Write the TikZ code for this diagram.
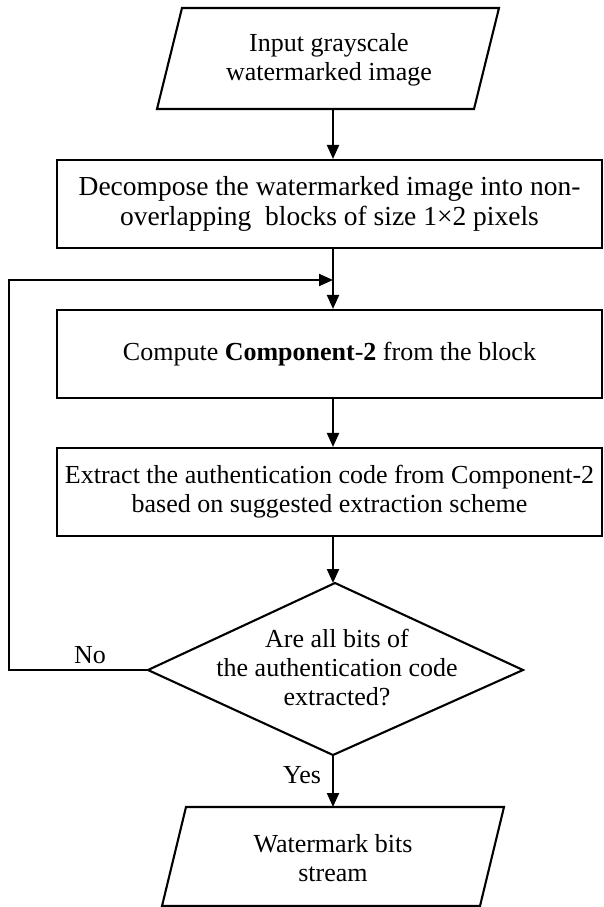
\documentclass[tikz,border=0pt]{standalone}
\usepackage{fontspec}
\setmainfont{Liberation Serif}
\usetikzlibrary{arrows.meta,calc}
\begin{document}
\begin{tikzpicture}[x=1pt,y=-1pt,line width=2.1pt,
  arr/.style={-{Triangle[length=14pt,width=12pt]}},
  txt/.style={font=\fontsize{26}{29}\selectfont,align=center,inner sep=0pt},
  box/.style={draw,rectangle,minimum width=545pt,minimum height=88pt,inner sep=0pt,font=\fontsize{26}{29}\selectfont,align=center}]
\useasboundingbox (0,0) rectangle (604,907);
% input parallelogram
\coordinate (i1) at (182,8);
\coordinate (i2) at (499,8);
\coordinate (i3) at (474,109);
\coordinate (i4) at (157,109);
\draw (i1) -- (i2) -- (i3) -- (i4) -- cycle;
\node[txt] (in) at (329,60) {Input grayscale\\watermarked image};
\coordinate (inB) at (333,109);
% boxes
\node[box,font=\fontsize{27.5}{30}\selectfont] (b2) at (329.5,204) {Decompose the watermarked image into non-\\overlapping\ \ blocks of size 1×2 pixels};
\node[box] (b3) at (329.5,354) {Compute \textbf{Component}-\textbf{2} from the block};
\node[box] (b4) at (329.5,492) {Extract the authentication code from Component-2\\based on suggested extraction scheme};
% diamond
\coordinate (dt) at (335,583);
\coordinate (dr) at (523,670);
\coordinate (db) at (333,755);
\coordinate (dl) at (148,670);
\draw (dt) -- (dr) -- (db) -- (dl) -- cycle;
\node[txt] (dtext) at (337,668) {Are all bits of\\the authentication code\\extracted?};
% output parallelogram
\coordinate (o1) at (186,807);
\coordinate (o2) at (504,807);
\coordinate (o3) at (480,906);
\coordinate (o4) at (162,906);
\draw (o1) -- (o2) -- (o3) -- (o4) -- cycle;
\node[txt] (out) at (333,858) {Watermark bits\\stream};
\coordinate (oT) at (333,807);
% connectors
\coordinate (lp) at (333,280);
\draw[arr] (inB) -- (inB |- b2.north);
\draw[arr] (inB |- b2.south) -- (inB |- b3.north);
\draw[arr] (inB |- b3.south) -- (inB |- b4.north);
\draw[arr] (inB |- b4.south) -- (inB |- dt);
\draw[arr] (db) -- (oT);
\draw[arr] (dl) -- ++(-139,0) |- (lp);
\node[txt] (no) at (90,655) {No};
\node[txt] (yes) at (302,775) {Yes};
\end{tikzpicture}
\end{document}
